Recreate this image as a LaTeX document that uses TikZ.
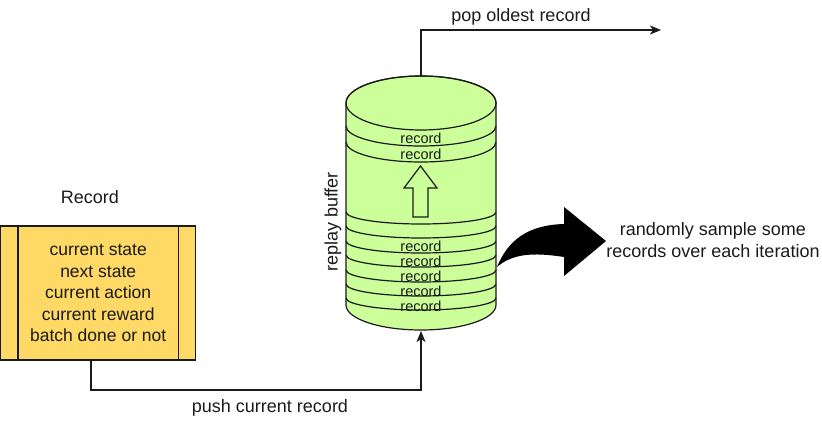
\documentclass[tikz,border=0pt]{standalone}
\usepackage{fontspec}
\setmainfont{Liberation Sans}
\usetikzlibrary{arrows.meta,calc}
\definecolor{boxfill}{HTML}{FFD966}
\definecolor{cylfill}{HTML}{CCFF99}
\definecolor{ink}{HTML}{1A1A1A}
\begin{document}
\begin{tikzpicture}[x=1pt,y=-1pt,
  font=\fontsize{18}{21.5}\selectfont,
  conn/.style={line width=1.3pt,draw=ink,-{Stealth[length=11pt,width=9pt,inset=3pt]}},
  layer/.style={line width=1.2pt,draw=ink},
  rectext/.style={font=\fontsize{14.5}{14.5}\selectfont,inner sep=0pt,text=ink},
  lbl/.style={inner sep=0pt,align=center,text=ink}]
\useasboundingbox (0,0) rectangle (822,422);

% ---------- record box ----------
\node[draw=ink,line width=1.3pt,fill=boxfill,minimum width=195pt,minimum height=134pt,
      inner sep=0pt,align=center,text=ink,font=\fontsize{17.5}{21.5}\selectfont] (rec) at (98.2,293) {current state\\next state\\current action\\current reward\\batch done or not};
\draw[layer] ($(rec.north west)+(18,0)$) -- ($(rec.south west)+(18,0)$);
\draw[layer] ($(rec.north east)+(-18,0)$) -- ($(rec.south east)+(-18,0)$);
\node[lbl] (reclbl) at (90,197) {Record};

% ---------- cylinder ----------
\filldraw[fill=cylfill,layer] (346,103) -- (346,305)
   arc[start angle=180,end angle=0,x radius=75,y radius=25]
   -- (496,103)
   arc[start angle=0,end angle=-180,x radius=75,y radius=27] -- cycle;
\draw[layer] (421,103) ellipse[x radius=75,y radius=27];
% upper layers
\foreach \yy in {126,142}{
  \draw[layer] (346,\yy) arc[start angle=180,end angle=0,x radius=75,y radius=20];
}
% lower layers
\foreach \yy in {212,226,241,255,270,284,298}{
  \draw[layer] (346,\yy) arc[start angle=180,end angle=0,x radius=75,y radius=12];
}
\node[rectext] (r1) at (421,138) {record};
\node[rectext] (r2) at (421,154) {record};
\node[rectext] (r3) at (421,246) {record};
\node[rectext] (r4) at (421,261) {record};
\node[rectext] (r5) at (421,276) {record};
\node[rectext] (r6) at (421,291) {record};
\node[rectext] (r7) at (421,306) {record};
% hollow up arrow
\draw[layer] (413,217) -- (413,188) -- (404,188) -- (420.5,166) -- (437,188)
   -- (428,188) -- (428,217) -- cycle;
\node[lbl,rotate=90] (rb) at (333,222) {replay buffer};

\coordinate (cyltop) at (421,76);
\coordinate (cylbot) at (421,331);

% ---------- pop ----------
\coordinate (popend) at (661,30);
\draw[conn] (cyltop) |- (popend);
\node[lbl] (poplbl) at (521,17) {pop oldest record};

% ---------- push ----------
\coordinate (pushstart) at (91,360);
\coordinate (pushcorner) at (91,390);
\draw[conn] (pushstart) -- (pushcorner) -| (cylbot);
\node[lbl] (pushlbl) at (270,408) {push current record};

% ---------- sample arrow ----------
\fill[black] (497,267) .. controls (508,240) and (528,225) .. (564,224)
   -- (564,207) -- (606,241) -- (564,276) -- (564,257)
   .. controls (532,252) and (512,254) .. (497,267) -- cycle;
\node[lbl,font=\fontsize{18}{22}\selectfont] (samplelbl) at (713,240) {randomly sample some\\records over each iteration};
\end{tikzpicture}
\end{document}
